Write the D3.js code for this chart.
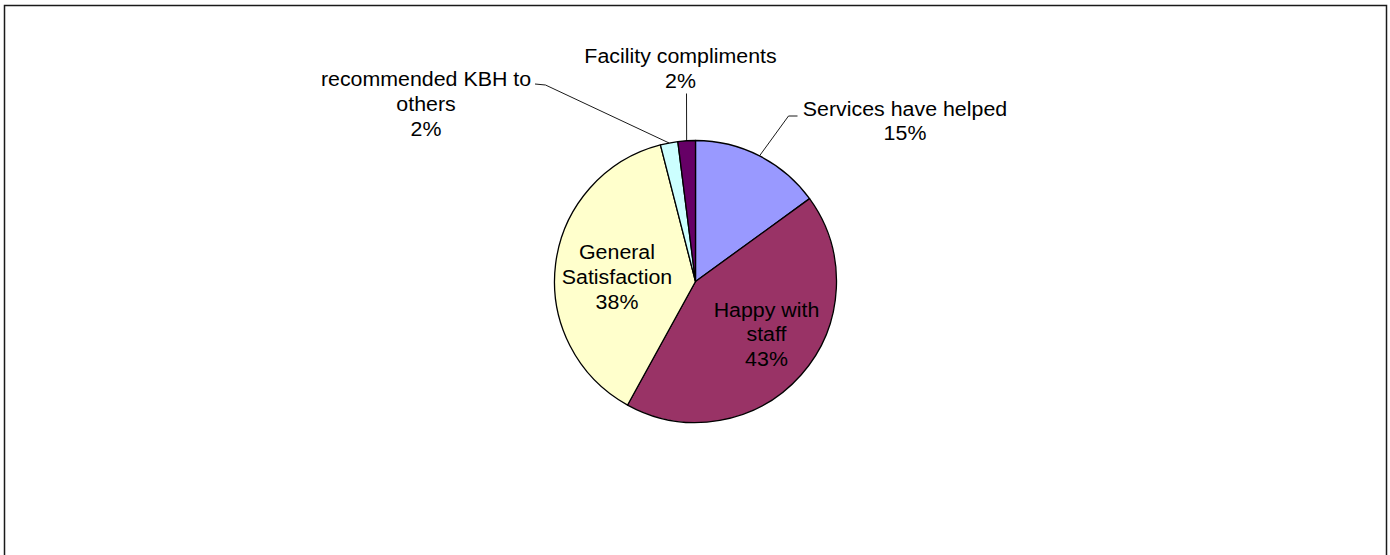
<!DOCTYPE html>
<html>
<head>
<meta charset="utf-8">
<script src="https://cdn.jsdelivr.net/npm/d3@7/dist/d3.min.js"></script>
<style>
  html, body { margin: 0; padding: 0; background: #fff; }
  svg { display: block; }
  text { font-family: "Liberation Sans", Arial, sans-serif; fill: #000; }
</style>
</head>
<body>
<svg id="chart" width="1390" height="555"></svg>
<script>
// Compliment categories, in drawing order (clockwise from 12 o'clock)
const categories = [
  "Services have helped",
  "Happy with staff",
  "General Satisfaction",
  "recommended KBH to others",
  "Facility compliments"
];
const values = [15, 43, 38, 2, 2];
const sliceColors = ["#9999FF", "#993366", "#FFFFCC", "#CCFFFF", "#660066"];

// Label lines as they wrap on the chart
const labelLines = [
  ["Services have helped"],
  ["Happy with", "staff"],
  ["General", "Satisfaction"],
  ["recommended KBH to", "others"],
  ["Facility compliments"]
];

// Label layout relative to the pie centre: anchor of first baseline,
// and optional leader-line elbow/stub for labels placed outside the pie
const cx = 695.5, cy = 281.5, radius = 141;
const labelLayout = [
  { x: 209.5, y: -166, outside: true, elbow: [93, -165.5], stub: [102, -165.5] },
  { x: 71, y: 35, outside: false },
  { x: -78.5, y: -22.5, outside: false },
  { x: -269.5, y: -195.5, outside: true, elbow: [-150, -196.5], stub: [-160.5, -197.5] },
  { x: -15, y: -218.5, outside: true, elbow: [-9, -188], stub: null }
];
const lineHeight = 24.8;
const xStretch = 1.09;

const svg = d3.select("#chart");

// Chart area frame
svg.append("rect")
  .attr("x", 4.5).attr("y", 5.5)
  .attr("width", 1382).attr("height", 560)
  .attr("fill", "#fff")
  .attr("stroke", "#1a1a1a")
  .attr("stroke-width", 1.5);

const pie = d3.pie().sort(null).value(d => d)
  .startAngle(0).endAngle(2 * Math.PI);
const arcs = pie(values);
const arc = d3.arc().innerRadius(0).outerRadius(radius);

const g = svg.append("g").attr("transform", `translate(${cx},${cy})`);

g.selectAll("path.slice")
  .data(arcs)
  .join("path")
  .attr("class", "slice")
  .attr("d", arc)
  .attr("fill", (d, i) => sliceColors[i])
  .attr("stroke", "#000")
  .attr("stroke-width", 1.3)
  .attr("stroke-linejoin", "round");

// Leader lines from slice rim (mid-angle) to the outside labels
const rimPoint = d => {
  const a = (d.startAngle + d.endAngle) / 2;
  return [Math.sin(a) * radius, -Math.cos(a) * radius];
};

arcs.forEach((d, i) => {
  const L = labelLayout[i];
  if (!L.outside) return;
  const pts = [rimPoint(d), L.elbow];
  if (L.stub) pts.push(L.stub);
  g.append("path")
    .attr("d", d3.line()(pts))
    .attr("fill", "none")
    .attr("stroke", "#000")
    .attr("stroke-width", 0.9);
});

// Text labels: category name lines followed by the percentage
const total = d3.sum(values);
arcs.forEach((d, i) => {
  const L = labelLayout[i];
  const lines = labelLines[i].concat([Math.round(d.value / total * 100) + "%"]);
  lines.forEach((t, k) => {
    g.append("text")
      .attr("transform", `translate(${L.x},${L.y + k * lineHeight}) scale(${xStretch},1)`)
      .attr("text-anchor", "middle")
      .attr("font-size", 19.6)
      .text(t);
  });
});
</script>
</body>
</html>
